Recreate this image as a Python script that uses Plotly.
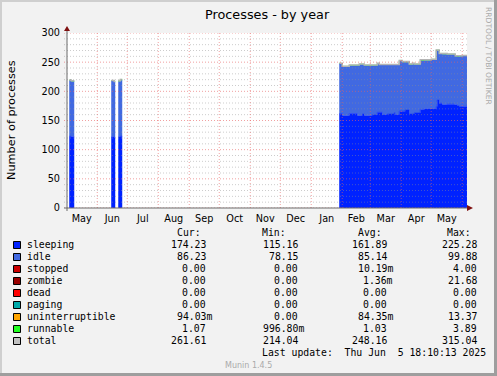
import plotly.graph_objects as go
import pandas as pd

# ---------------- data ----------------
seg1_dates = ['2024-05-04', '2024-05-06', '2024-05-09']
seg1_sleeping = [123, 122, 122]
seg1_idle = [95.5, 95, 95]
seg1_runnable = [1, 1, 1]

seg2_dates = ['2024-06-15', '2024-06-18', '2024-06-19']
seg2_sleeping = [122, 121, 121]
seg2_idle = [95.5, 95, 95]
seg2_runnable = [1, 1, 1]

seg3_dates = ['2024-06-22', '2024-06-24', '2024-06-26']
seg3_sleeping = [122, 123, 123]
seg3_idle = [95, 95.5, 95.5]
seg3_runnable = [1, 2, 2]

seg4_dates = ['2025-01-29', '2025-02-01', '2025-02-08', '2025-02-16', '2025-02-18',
              '2025-02-21', '2025-02-23', '2025-03-03', '2025-03-08', '2025-03-10',
              '2025-03-13', '2025-03-18', '2025-03-25', '2025-03-26', '2025-03-30',
              '2025-04-02', '2025-04-05', '2025-04-09', '2025-04-12', '2025-04-14',
              '2025-04-20', '2025-04-24', '2025-05-01', '2025-05-06', '2025-05-07',
              '2025-05-09', '2025-05-12', '2025-05-17', '2025-05-24', '2025-05-25',
              '2025-05-27', '2025-05-29', '2025-06-01', '2025-06-05 18:00']
seg4_sleeping = [162, 158, 162, 158, 158, 161, 158, 159.5, 164, 164,
                 160, 161, 163, 160, 166, 166, 168, 161, 161, 163,
                 169, 170, 170, 174, 185, 179.5, 177, 178, 177, 177,
                 175, 174, 174.2, 174.2]
seg4_idle = [85, 84, 82, 86, 88, 85, 86, 84.5, 83, 81,
             85, 84, 82, 85, 86, 84, 82, 84, 85, 83,
             83, 83, 84, 96, 85, 84.5, 86, 85, 86, 83,
             84, 86, 86.2, 86.2]
seg4_runnable = [1, 1, 1, 1, 1, 1, 1, 1, 1, 1,
                 1, 1, 1, 1, 1, 1, 1, 2, 2, 1,
                 2, 1, 1, 1, 1, 1, 2, 1, 1, 1,
                 2, 1, 1.1, 1.1]

series_names = ['sleeping', 'idle', 'stopped', 'zombie', 'dead', 'paging',
                'uninterruptible', 'runnable', 'total']
series_colors = ['#0022FF', '#4169E1', '#CC0000', '#990000', '#FF0000', '#00AAAA',
                 '#FFA500', '#22FF22', '#C0C0C0']
col_cur = ['174.23', '86.23', '0.00', '0.00', '0.00', '0.00', '94.03m', '1.07', '261.61']
col_min = ['115.16', '78.15', '0.00', '0.00', '0.00', '0.00', '0.00', '996.80m', '214.04']
col_avg = ['161.89', '85.14', '10.19m', '1.36m', '0.00', '0.00', '84.35m', '1.03', '248.16']
col_max = ['225.28', '99.88', '4.00', '21.68', '0.00', '0.00', '13.37', '3.89', '315.04']

title_text = 'Processes - by year'
ylabel_text = 'Number of processes'
last_update = 'Last update:  Thu Jun  5 18:10:13 2025'
x_range = ['2024-05-01 18:10', '2025-06-05 18:10']
y_ticks = [0, 50, 100, 150, 200, 250, 300]

# ---------------- layout geometry (pixels) ----------------
W, H = 497, 376
L, R, T, B = 67, 30, 33, 168
PW, PH = W - L - R, H - T - B


def px(x):
    return (x - L) / PW


def py(y):
    return (H - B - y) / PH


SANS = 'DejaVu Sans'
MONO = 'DejaVu Sans Mono'

fig = go.Figure()

segments = [
    (seg1_dates, seg1_sleeping, seg1_idle, seg1_runnable),
    (seg2_dates, seg2_sleeping, seg2_idle, seg2_runnable),
    (seg3_dates, seg3_sleeping, seg3_idle, seg3_runnable),
    (seg4_dates, seg4_sleeping, seg4_idle, seg4_runnable),
]
for i, (d, s, idl, rn) in enumerate(segments):
    for vals, col in ((s, series_colors[0]), (idl, series_colors[1]), (rn, series_colors[7])):
        fig.add_trace(go.Scatter(
            x=d, y=vals, mode='lines', stackgroup='seg%d' % i,
            line=dict(width=0.5, color=col, shape='hv'),
            fillcolor=col, showlegend=False, hoverinfo='skip'))
    total = [a + b + c for a, b, c in zip(s, idl, rn)]
    fig.add_trace(go.Scatter(
        x=d, y=total, mode='lines',
        line=dict(width=1.5, color='#B4B4B4', shape='hv'),
        showlegend=False, hoverinfo='skip'))

shapes = []
# grid: horizontal
for v in range(0, 301, 10):
    major = v % 50 == 0
    shapes.append(dict(type='line', xref='paper', yref='y', x0=px(64), x1=1, y0=v, y1=v,
                       layer='above',
                       line=dict(color='rgba(232,96,96,0.6)' if major else 'rgba(143,143,143,0.45)',
                                 width=1, dash='1px,2px')))
# grid: month boundaries
for m in pd.date_range('2024-06-01', '2025-06-01', freq='MS'):
    shapes.append(dict(type='line', xref='x', yref='paper', x0=m, x1=m, y0=0, y1=1,
                       layer='above',
                       line=dict(color='rgba(232,96,96,0.6)', width=1, dash='1px,2px')))
# axes lines and arrows
AX = '#6A6A6A'
AR = '#7F1010'
shapes.append(dict(type='line', xref='paper', yref='paper', x0=px(64), x1=px(469),
                   y0=py(208), y1=py(208), line=dict(color=AX, width=1), layer='above'))
shapes.append(dict(type='line', xref='paper', yref='paper', x0=px(67), x1=px(67),
                   y0=py(211), y1=py(30), line=dict(color=AX, width=1), layer='above'))
shapes.append(dict(type='path', xref='paper', yref='paper', layer='above',
                   path='M %f %f L %f %f L %f %f Z' % (px(467), py(205), px(473), py(208), px(467), py(211)),
                   fillcolor=AR, line=dict(width=0)))
shapes.append(dict(type='path', xref='paper', yref='paper', layer='above',
                   path='M %f %f L %f %f L %f %f Z' % (px(64), py(31), px(67), py(26), px(70), py(31)),
                   fillcolor=AR, line=dict(width=0)))
# frame
shapes.append(dict(type='rect', xref='paper', yref='paper', x0=px(0), x1=px(W), y0=py(0), y1=py(2),
                   fillcolor='#CFCFCF', line=dict(width=0)))
shapes.append(dict(type='rect', xref='paper', yref='paper', x0=px(0), x1=px(2), y0=py(0), y1=py(H),
                   fillcolor='#CFCFCF', line=dict(width=0)))
shapes.append(dict(type='rect', xref='paper', yref='paper', x0=px(0), x1=px(W), y0=py(373), y1=py(H),
                   fillcolor='#9E9E9E', line=dict(width=0)))
shapes.append(dict(type='rect', xref='paper', yref='paper', x0=px(494), x1=px(W), y0=py(0), y1=py(H),
                   fillcolor='#9E9E9E', line=dict(width=0)))

annotations = []


def txt(x, y, s, size, family=MONO, xanchor='left', color='black', angle=0):
    annotations.append(dict(xref='paper', yref='paper', x=px(x), y=py(y), text=s.replace(' ', '\u00a0'),
                            showarrow=False, xanchor=xanchor, yanchor='middle', textangle=angle,
                            borderpad=0, borderwidth=0,
                            font=dict(family=family, size=size, color=color)))


txt(267.5, 14.5, title_text, 12.8, SANS, 'center')
txt(11, 120, ylabel_text, 11.3, SANS, 'center', angle=-90)
txt(489, 56, 'RRDTOOL / TOBI OETIKER', 7.6, SANS, 'center', '#AAAAAA', angle=90)
txt(248.5, 365, 'Munin 1.4.5', 8, SANS, 'center', '#AAAAAA')

FS = 9.8
row0 = 244.5
txt(176.7, 232.5, 'Cur:', FS)
txt(261.7, 232.5, 'Min:', FS)
txt(358.3, 232.5, 'Avg:', FS)
txt(446.7, 232.5, 'Max:', FS)


def val(s):
    return s if s.endswith('m') else s + ' '


for k, name in enumerate(series_names):
    yc = row0 + 12 * k
    shapes.append(dict(type='rect', xref='paper', yref='paper',
                       x0=px(13.5), x1=px(20.5), y0=py(yc - 3.5 + 0.5), y1=py(yc + 3.5 + 0.5),
                       fillcolor=series_colors[k], line=dict(color='black', width=1)))
    txt(26.7, yc, name, FS)
    txt(212, yc, val(col_cur[k]), FS, xanchor='right')
    txt(303.7, yc, val(col_min[k]), FS, xanchor='right')
    txt(392.7, yc, val(col_avg[k]), FS, xanchor='right')
    txt(483.3, yc, val(col_max[k]), FS, xanchor='right')
txt(261.7, row0 + 12 * 9, last_update, FS)

fig.update_layout(
    width=W, height=H, margin=dict(l=L, r=R, t=T, b=B, pad=0),
    paper_bgcolor='#F2F2F2', plot_bgcolor='white',
    shapes=shapes, annotations=annotations, showlegend=False,
    xaxis=dict(type='date', range=x_range, tick0='2024-05-01', dtick='M1',
               ticklabelmode='period', tickformat='%b', showgrid=False, zeroline=False,
               showline=False, ticks='', ticklabelstandoff=3,
               tickfont=dict(family=SANS, size=9.7, color='black'), fixedrange=True),
    yaxis=dict(range=[0, 300], tickvals=y_ticks, showgrid=False, zeroline=False,
               showline=False, ticks='', ticklabelstandoff=6,
               tickfont=dict(family=SANS, size=9.7, color='black'), fixedrange=True),
)

fig.write_html('out.html', config={'displayModeBar': False, 'staticPlot': True},
               post_script="document.body.style.margin='0';document.body.style.overflow='hidden';")
